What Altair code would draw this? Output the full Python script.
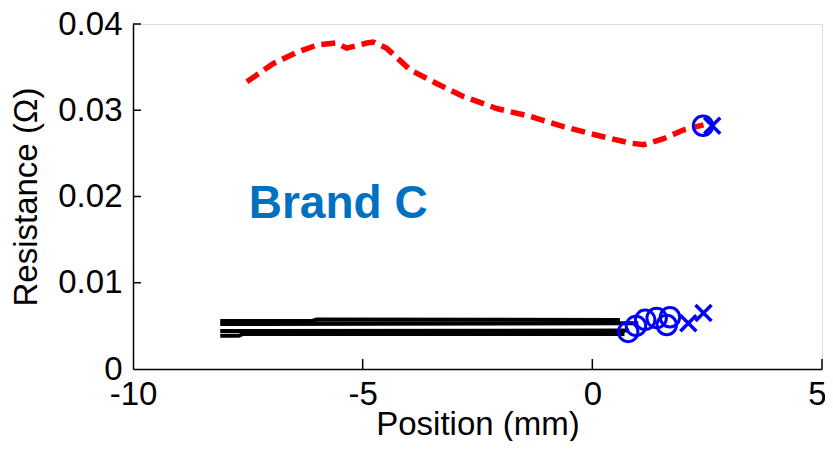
import altair as alt
import pandas as pd

# ---- data ----
red_x = [-7.52, -6.95, -6.44, -5.97, -5.57, -5.35, -4.91, -4.77, -4.48, -3.97, -3.39,
         -2.81, -2.08, -1.36, -0.63, 0.10, 0.82, 1.11, 1.55, 1.98, 2.42]
red_y = [0.0333, 0.0354, 0.0367, 0.0376, 0.0378, 0.0372, 0.0378, 0.0379, 0.0372, 0.0347, 0.0331,
         0.0316, 0.0302, 0.0293, 0.0281, 0.0271, 0.0262, 0.0260, 0.0267, 0.0277, 0.0283]

black_lines = {
    "L1": ([-8.1, -6.1, -6.0, 0.6], [0.00557, 0.00557, 0.00574, 0.00568]),
    "L2": ([-8.1, 1.0], [0.00522, 0.00530]),
    "L3": ([-8.1, 0.8], [0.00441, 0.00445]),
    "L4": ([-8.1, -7.7, -7.6, 0.7], [0.00385, 0.00385, 0.00406, 0.00406]),
}

circle_x = [0.78, 0.95, 1.15, 1.40, 1.69, 1.62, 2.41]
circle_y = [0.0043, 0.0050, 0.0057, 0.0059, 0.0060, 0.0051, 0.0282]
cross_x = [2.09, 2.42, 2.61]
cross_y = [0.0053, 0.0065, 0.0282]

label_text = ["Brand C"]
label_x = [-7.48]
label_y = [0.0175]

x_ticks = [-10, -5, 0, 5]
y_ticks = [0, 0.01, 0.02, 0.03, 0.04]

# ---- tables ----
red_df = pd.DataFrame({"x": red_x, "y": red_y, "i": range(len(red_x))})
rows = []
for name, (xs, ys) in black_lines.items():
    for i, (a, b) in enumerate(zip(xs, ys)):
        rows.append({"series": name, "x": a, "y": b, "i": i})
black_df = pd.DataFrame(rows)
circ_df = pd.DataFrame({"x": circle_x, "y": circle_y})
cross_df = pd.DataFrame({"x": cross_x, "y": cross_y})
lab_df = pd.DataFrame({"t": label_text, "x": label_x, "y": label_y})
xt_df = pd.DataFrame({"x": x_ticks[1:]})
yt_df = pd.DataFrame({"y": y_ticks[1:]})

FONT = "Liberation Sans"

xscale = alt.Scale(domain=[-10, 5], nice=False, zero=False)
yscale = alt.Scale(domain=[0, 0.04], nice=False, zero=False)

xaxis = alt.Axis(values=x_ticks, labelExpr="'' + datum.value", title="Position (mm)",
                 grid=False, tickSize=0, labelPadding=9, labelFontSize=33, titleFontSize=33,
                 titleFontWeight="normal", labelFont=FONT, titleFont=FONT, labelColor="black",
                 titleColor="black", domainColor="black", domainWidth=1.5, titlePadding=-3,
                 labelFlush=False, labelOverlap=False,
                 labelOffset={"condition": {"test": "datum.value == 5", "value": -5}, "value": 0})
yaxis = alt.Axis(values=y_ticks, labelExpr="'' + datum.value", title="Resistance (Ω)",
                 grid=False, tickSize=0, labelPadding=11, labelFontSize=33, titleFontSize=33,
                 titleFontWeight="normal", labelFont=FONT, titleFont=FONT, labelColor="black",
                 titleColor="black", domainColor="black", domainWidth=1.5, titlePadding=14,
                 labelFlush=False, labelOverlap=False)

black = alt.Chart(black_df).mark_line(color="black", strokeWidth=4).encode(
    x=alt.X("x:Q", scale=xscale, axis=xaxis),
    y=alt.Y("y:Q", scale=yscale, axis=yaxis),
    detail="series:N",
    order="i:Q",
)

red = alt.Chart(red_df).mark_line(color="#FF0000", strokeWidth=5.5, strokeDash=[14, 7]).encode(
    x=alt.X("x:Q", scale=xscale),
    y=alt.Y("y:Q", scale=yscale),
    order="i:Q",
)

circles = alt.Chart(circ_df).mark_point(shape="circle", filled=False, color="#0000FF",
                                        strokeWidth=3, size=380, opacity=1).encode(
    x=alt.X("x:Q", scale=xscale), y=alt.Y("y:Q", scale=yscale))

crosses = alt.Chart(cross_df).mark_point(shape="M-1,-1L1,1M-1,1L1,-1", filled=False,
                                         color="#0000FF", strokeWidth=3.5, size=256,
                                         opacity=1).encode(
    x=alt.X("x:Q", scale=xscale), y=alt.Y("y:Q", scale=yscale))

label = alt.Chart(lab_df).mark_text(font=FONT, fontSize=46, fontWeight="bold",
                                    color="#0070C0", align="left",
                                    baseline="alphabetic").encode(
    x=alt.X("x:Q", scale=xscale), y=alt.Y("y:Q", scale=yscale), text="t:N")

xt = alt.Chart(xt_df).mark_rule(color="black", strokeWidth=1.5).encode(
    x=alt.X("x:Q", scale=xscale), y=alt.value(345), y2=alt.value(335))
yt = alt.Chart(yt_df).mark_rule(color="black", strokeWidth=1.5).encode(
    y=alt.Y("y:Q", scale=yscale), x=alt.value(0), x2=alt.value(8))

chart = alt.layer(black, red, circles, crosses, label, xt, yt).properties(
    width=689, height=345,
    autosize=alt.AutoSizeParams(type="none"),
    padding={"left": 125, "top": 16, "right": 3, "bottom": 72},
).configure_view(stroke=None).configure(background="white")

chart.save("out.html", embed_options={"renderer": "svg", "actions": False})
